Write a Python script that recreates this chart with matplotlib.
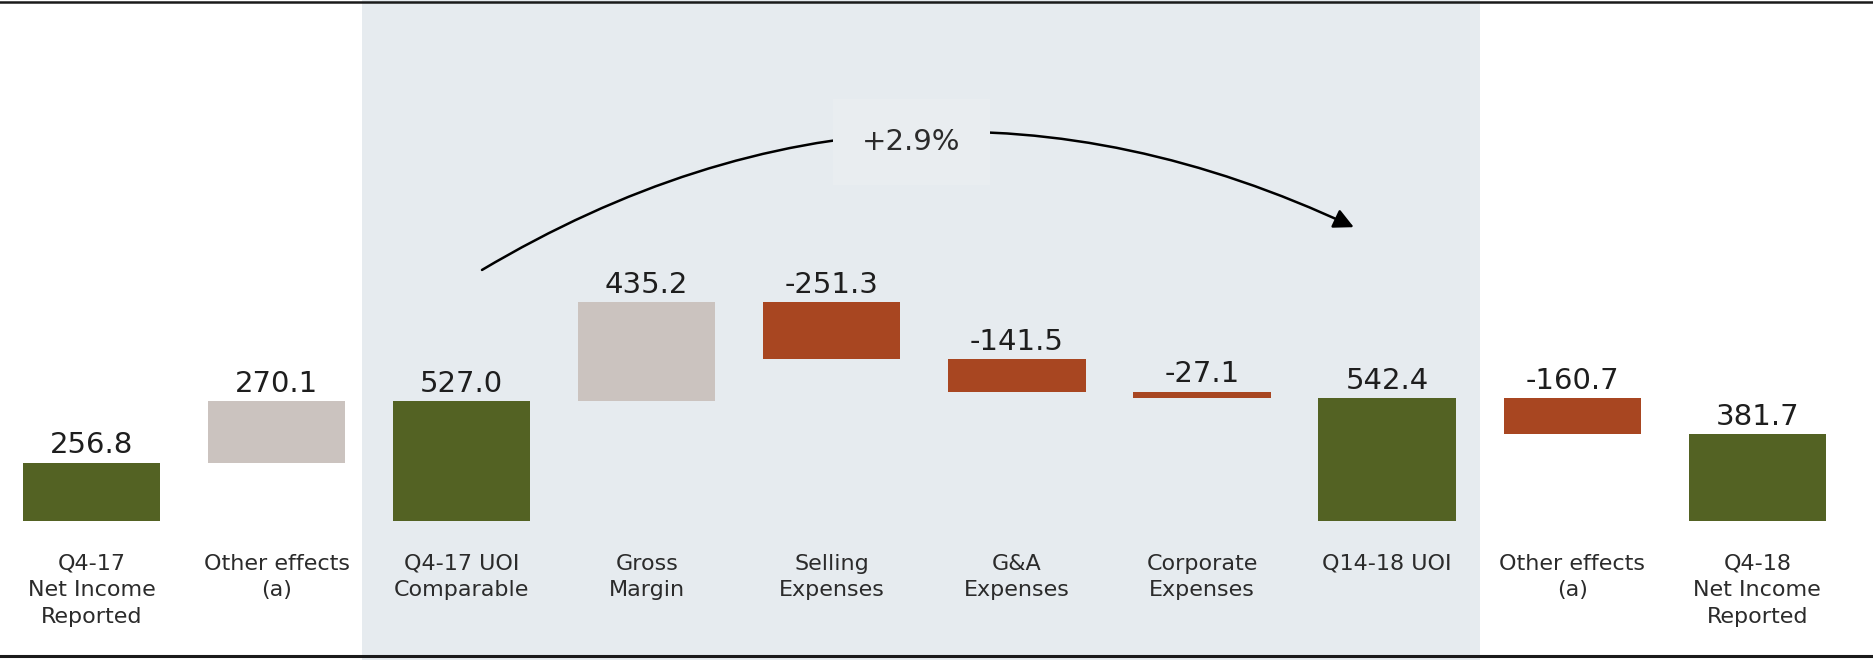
import matplotlib
matplotlib.use("Agg")
import matplotlib.pyplot as plt
from matplotlib.lines import Line2D

# Waterfall data (EUR m)
categories = ["Q4-17\nNet Income\nReported", "Other effects\n(a)", "Q4-17 UOI\nComparable",
              "Gross\nMargin", "Selling\nExpenses", "G&A\nExpenses", "Corporate\nExpenses",
              "Q14-18 UOI", "Other effects\n(a)", "Q4-18\nNet Income\nReported"]
values = [256.8, 270.1, 527.0, 435.2, -251.3, -141.5, -27.1, 542.4, -160.7, 381.7]
is_total = [True, False, True, False, False, False, False, True, False, True]

GREEN = "#536223"
BEIGE = "#CBC3BF"
RED = "#A84621"
SHADE = "#E6EBEF"

fig = plt.figure(figsize=(18.73, 6.6), dpi=100)
ax = fig.add_axes([0, 0, 1, 1])
ax.set_xlim(-0.494, 9.625)
ax.set_ylim(-613, 2294)
ax.axis("off")

# shaded comparable block
ax.axvspan(1.46, 7.5, color=SHADE, zorder=0, lw=0)

# bars
running = 0
for i, v in enumerate(values):
    if is_total[i]:
        bottom = 0
        color = GREEN
        running = v
    else:
        bottom = running
        color = BEIGE if v > 0 else RED
        running += v
    ax.bar(i, v, bottom=bottom, width=0.742, color=color, zorder=2)
    top = max(bottom, bottom + v)
    ax.text(i, top + 40, f"{v:.1f}", ha="center", va="baseline",
            fontsize=21, color="#1e1e1e", zorder=3)
    ax.text(i, -145, categories[i], ha="center", va="top", fontsize=16,
            color="#2b2b2b", linespacing=1.4, zorder=3)

# growth arrow between the two UOI bars
start, end = 2, 7
growth = (values[end] / values[start] - 1) * 100
ax.annotate("", xy=(end - 0.18, values[end] + 751), xytext=(start + 0.11, values[start] + 578),
            arrowprops=dict(arrowstyle="-|>,head_length=0.6,head_width=0.3",
                            connectionstyle="arc3,rad=-0.265", color="black",
                            lw=1.8, shrinkA=0, shrinkB=0, mutation_scale=20),
            zorder=3)
ax.text((start + end) / 2 - 0.07, 1668, f"+{growth:.1f}%", ha="center", va="center",
        fontsize=21, color="#2b2b2b", zorder=4,
        bbox=dict(boxstyle="square,pad=1.0", fc="#E9EDF0", ec="none"))

# top and bottom rules
fig.add_artist(Line2D([0, 1], [1 - 1.5 / 660] * 2, color="#1a1a1a", lw=1.8))
fig.add_artist(Line2D([0, 1], [4.5 / 660] * 2, color="#1a1a1a", lw=2.2))

plt.savefig("out.png", dpi=100)
